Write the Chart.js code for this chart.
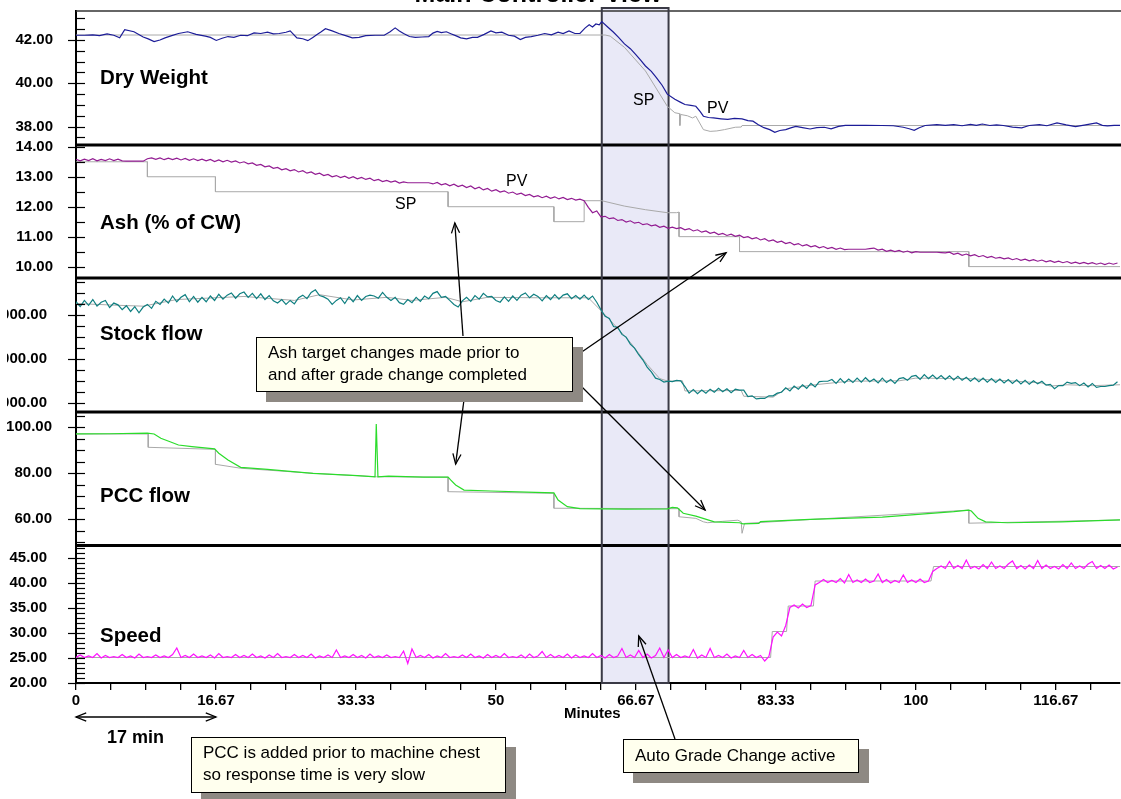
<!DOCTYPE html>
<html>
<head>
<meta charset="utf-8">
<title>Main Controller View</title>
<script src="https://cdn.jsdelivr.net/npm/chart.js@4.4.1/dist/chart.umd.min.js"></script>
<style>
  body { margin: 0; background: #fff; }
  #wrap { position: relative; width: 1121px; height: 799px; overflow: hidden;
          font-family: "Liberation Sans", Arial, sans-serif; color: #000; }
  #wrap canvas { position: absolute; left: 0; top: 0; }
  .t { position: absolute; white-space: nowrap; line-height: 1; }
  .panel { font-weight: bold; font-size: 20.5px; }
  .tag { font-size: 16px; }
  .note { position: absolute; box-sizing: border-box; background: #ffffee;
          border: 1.5px solid #000; box-shadow: 10px 10px 0 #8e8983;
          font-size: 17px; line-height: 22px; padding: 4px 0 0 11px; white-space: nowrap; }
</style>
</head>
<body>
<div id="wrap">
  <canvas id="mcv" width="1121" height="799"></canvas>

  <div class="t" style="left:338px;top:-19px;width:400px;text-align:center;font-weight:bold;font-size:25px;">Main Controller View</div>

  <div class="t panel" style="left:100px;top:66.6px;">Dry Weight</div>
  <div class="t panel" style="left:100px;top:211.6px;">Ash (% of CW)</div>
  <div class="t panel" style="left:100px;top:322.6px;">Stock flow</div>
  <div class="t panel" style="left:100px;top:484.6px;">PCC flow</div>
  <div class="t panel" style="left:100px;top:624.6px;">Speed</div>

  <div class="t tag" style="left:633px;top:91.5px;">SP</div>
  <div class="t tag" style="left:707px;top:99.5px;">PV</div>
  <div class="t tag" style="left:506px;top:172.5px;">PV</div>
  <div class="t tag" style="left:395px;top:195.5px;">SP</div>

  <div class="t" style="left:564px;top:705.3px;font-weight:bold;font-size:15px;">Minutes</div>
  <div class="t" style="left:107px;top:727.8px;font-weight:bold;font-size:18px;">17 min</div>

  <div class="note" style="left:256px;top:337px;width:317px;height:55px;">Ash target changes made prior to<br>and after grade change completed</div>
  <div class="note" style="left:191px;top:737px;width:315px;height:56px;">PCC is added prior to machine chest<br>so response time is very slow</div>
  <div class="note" style="left:623px;top:739px;width:236px;height:34px;padding-top:5px;">Auto Grade Change active</div>
</div>

<script>
// ── sampling interval (minutes) for the densely logged tags
const STEP = 0.5;

// ── Auto Grade Change active window (minutes)
const agcWindow = [62.6, 70.55];

// ── Dry Weight
const dryT = [0,1,2,2.8,3.7,4.5,5.2,5.8,6.9,8.0, 8.6,9.3,10.0,10.6,11.4,12.2,13.3,14.3,15.4,16.0,
  16.7,17.4,18.1,18.8,19.6,20.4,21.2,22.0,22.8,23.5, 24.2,25.0,25.5,26.3,27.0,27.6,28.2,28.7,29.2,29.7,
  30.5,31.3,32.1,32.9,33.7,34.5,35.6,36.7,37.4,38.0, 38.5,39.0,39.7,40.4,41.2,42.0,42.5,43.0,43.5,44.1,
  44.7,45.2,45.8,46.5,47.2,47.8,48.6,49.4,50.0,50.7, 51.5,52.2,52.9,53.5,54.2,55.0,55.8,56.6,57.4,58.0,
  58.7,59.4,60.0,60.6,61.1,61.5,61.9,62.3,62.6,63.3, 64.0,64.6,65.3,66.0,66.6,67.2,67.8,68.5,69.1,69.8,
  70.4,71.3,72.0,72.5,73.2,73.8,74.3,74.7,75.3,75.9, 76.8,77.6,78.4,79.3,80.0,80.6,81.2,81.9,82.6,83.2,
  83.8,84.5,85.1,85.7,86.5,87.4,88.2,89.1,89.9,90.8, 91.6,92.5,94.0,96.0,97.3,98.5,99.2,99.8,100.4,101.1,
  102.5,103.5,104.5,105.5,106.5,107.2,107.9,108.8,109.6,110.4, 111.5,112.6,113.5,114.7,115.6,116.8,117.9,119.0,120.2,121.5,
  122.2,122.8,123.6,124.3];
const dryPv = [42.22,42.22,42.24,42.20,42.28,42.22,42.10,42.48,42.38,42.14, 42.05,41.93,42.00,42.10,42.20,42.30,42.38,42.26,42.18,42.12,
  41.98,42.08,42.16,42.12,42.22,42.20,42.33,42.30,42.36,42.28, 42.30,42.36,42.42,42.10,42.06,41.97,42.12,42.25,42.38,42.52,
  42.42,42.30,42.20,42.10,42.12,42.20,42.22,42.22,42.38,42.56, 42.42,42.30,42.16,42.12,42.14,42.16,42.32,42.40,42.34,42.38,
  42.28,42.20,42.10,42.05,42.12,42.12,42.26,42.42,42.33,42.36, 42.22,42.18,42.02,42.12,42.16,42.22,42.30,42.24,42.36,42.30,
  42.42,42.30,42.31,42.55,42.70,42.60,42.74,42.70,42.85,42.60, 42.36,42.12,41.82,41.60,41.35,41.08,40.80,40.55,40.26,39.90,
  39.50,39.26,39.12,39.02,38.98,38.94,38.70,38.48,38.42,38.40, 38.36,38.33,38.38,38.36,38.28,38.25,38.10,37.95,37.86,37.74,
  37.82,37.86,37.94,38.01,37.95,37.89,37.95,37.97,37.90,38.01, 38.06,38.06,38.06,38.05,38.04,37.97,37.90,37.83,37.95,38.05,
  38.09,38.06,38.09,38.04,38.10,38.06,38.12,38.05,38.08,38.05, 37.98,37.94,38.05,38.09,38.04,38.17,38.08,38.00,38.08,38.17,
  38.06,38.03,38.06,38.06];
const drySpT = [0,63.0,63.6,65.3,67.8,70.4,71.3,71.85,71.9,72.0,72.8,73.4,73.8,74.7,75.5,76.3,77.2,78.5,79.2,79.3,124.3];
const drySpV = [42.23,42.23,42.18,41.66,40.57,38.94,38.64,38.60,38.05,38.56,38.50,38.40,38.48,37.86,37.78,37.80,37.86,37.97,37.98,38.05,38.05];

// ── Ash (% of CW), every STEP minutes from 0
const ashPv = [13.58,13.53,13.59,13.54,13.60,13.53,13.58,13.54,13.60,13.54,
  13.59,13.53,13.52,13.52,13.52,13.52,13.52,13.60,13.63,13.58,
  13.63,13.57,13.62,13.57,13.62,13.56,13.61,13.55,13.60,13.54,
  13.59,13.53,13.58,13.51,13.56,13.50,13.55,13.49,13.53,13.46,
  13.50,13.43,13.46,13.38,13.41,13.33,13.36,13.28,13.31,13.23,
  13.27,13.20,13.24,13.16,13.20,13.12,13.16,13.08,13.12,13.04,
  13.08,13.00,13.04,12.97,13.02,12.95,13.00,12.93,12.98,12.91,
  12.95,12.87,12.91,12.84,12.88,12.82,12.86,12.79,12.83,12.80,
  12.80,12.80,12.80,12.80,12.80,12.76,12.81,12.73,12.77,12.70,
  12.75,12.67,12.72,12.64,12.69,12.60,12.65,12.56,12.61,12.52,
  12.57,12.49,12.53,12.45,12.49,12.41,12.45,12.37,12.41,12.33,
  12.37,12.30,12.35,12.28,12.33,12.26,12.31,12.24,12.28,12.22,
  12.25,12.20,11.98,11.80,11.86,11.66,11.68,11.60,11.63,11.54,
  11.57,11.49,11.53,11.45,11.48,11.40,11.43,11.36,11.39,11.31,
  11.35,11.28,11.32,11.27,11.30,11.23,11.27,11.19,11.23,11.15,
  11.19,11.11,11.15,11.07,11.11,11.04,11.08,11.01,11.05,10.97,
  11.00,10.93,10.97,10.89,10.93,10.85,10.89,10.81,10.85,10.77,
  10.81,10.73,10.77,10.69,10.73,10.66,10.70,10.63,10.67,10.60,
  10.64,10.58,10.62,10.57,10.58,10.58,10.58,10.58,10.58,10.60,
  10.62,10.55,10.58,10.51,10.55,10.50,10.54,10.48,10.52,10.46,
  10.50,10.48,10.48,10.48,10.48,10.48,10.47,10.46,10.48,10.41,
  10.45,10.38,10.42,10.36,10.40,10.33,10.37,10.30,10.34,10.28,
  10.31,10.26,10.29,10.23,10.27,10.21,10.25,10.19,10.23,10.18,
  10.22,10.16,10.20,10.14,10.18,10.13,10.17,10.11,10.15,10.10,
  10.14,10.09,10.13,10.08,10.12,10.07,10.12,10.08,10.12];
const ashSpT = [0,8.5,8.5,16.6,16.6,44.3,44.3,56.9,56.9,60.5,60.5,62.6,65.3,67.8,70.4,71.5,71.8,71.8,79.0,79.0,106.3,106.3,124.3];
const ashSpV = [13.5,13.5,13.0,13.0,12.5,12.5,12.0,12.0,11.5,11.5,12.2,12.2,12.02,11.9,11.8,11.8,11.82,11.0,11.0,10.5,10.5,10.0,10.0];

// ── Stock flow, every STEP minutes from 0
const stockPv = [3300,3190,3330,3220,3350,3200,3290,3330,3170,3270,
  3230,3120,3210,3080,3190,3050,3180,3240,3150,3310,
  3240,3360,3270,3430,3300,3400,3460,3300,3420,3290,
  3400,3300,3430,3330,3470,3360,3450,3500,3380,3480,
  3520,3400,3490,3370,3480,3350,3440,3320,3270,3350,
  3240,3330,3250,3390,3450,3370,3510,3570,3440,3410,
  3360,3240,3330,3390,3260,3410,3300,3440,3330,3420,
  3450,3430,3380,3510,3400,3330,3400,3280,3240,3350,
  3280,3400,3310,3430,3370,3490,3530,3400,3420,3330,
  3240,3180,3320,3400,3310,3440,3360,3490,3410,3420,
  3330,3290,3410,3310,3430,3330,3450,3500,3390,3470,
  3420,3320,3440,3350,3460,3360,3450,3480,3370,3440,
  3360,3450,3350,3430,3290,3120,2970,2920,2740,2720,
  2560,2500,2340,2250,2100,1980,1820,1710,1570,1540,
  1480,1500,1490,1520,1510,1380,1230,1310,1220,1300,
  1230,1320,1250,1340,1260,1330,1240,1320,1300,1300,
  1150,1170,1100,1110,1110,1170,1170,1230,1250,1350,
  1280,1390,1320,1420,1340,1450,1370,1490,1500,1500,
  1540,1450,1560,1460,1550,1470,1570,1480,1580,1490,
  1550,1460,1570,1470,1540,1450,1560,1580,1520,1610,
  1630,1540,1650,1560,1640,1550,1630,1540,1620,1530,
  1610,1520,1590,1500,1580,1490,1570,1480,1560,1470,
  1550,1460,1540,1450,1530,1440,1520,1430,1510,1440,
  1500,1410,1430,1330,1400,1400,1480,1450,1470,1400,
  1460,1370,1450,1360,1380,1380,1400,1410,1490];
const stockSpT = [0,5,8,12,20,26,29,33,37,40,44,46,49,55,61,62.6,64,66,68,69.5,70.5,72.2,72.5,79.2,79.5,83,84.5,88,92,98,100,106,112,115,116,118,121,124.3];
const stockSpV = [3260,3220,3200,3350,3420,3330,3460,3340,3400,3330,3400,3300,3400,3390,3390,3080,2800,2380,1880,1560,1500,1510,1280,1290,1160,1140,1330,1420,1500,1510,1570,1560,1500,1460,1390,1420,1400,1420];

// ── PCC flow
const pccT = [0,4,8.5,9.3,10.1,11.2,12.2,13.8,16.5,17.0,18.1,19.6,22.8,28.2,33.5,35.6,35.75,35.95,37.2,41.4,
  44.3,44.6,45.2,46.2,49.4,54.7,56.9,57.4,58.5,60.0,65.4,70.4,71.0,71.6,72.3,73.8,76.0,79.0,79.4,81.3,
  81.5,87.4,96.0,104.5,106.3,106.6,107.4,108.3,110.9,117.3,124.3];
const pccPv = [97.1,97.2,97.5,97.1,95.2,93.7,92.3,91.6,90.6,88.7,85.8,82.6,81.7,80.0,79.0,78.5,101.4,78.5,78.8,78.3,
  78.3,77.1,74.9,72.7,72.3,71.7,71.5,68.4,65.5,64.6,64.4,64.5,65.2,65.0,62.6,61.4,58.9,58.5,58.0,58.2,
  59.0,60.0,60.9,63.3,64.0,63.6,60.4,58.9,58.5,58.9,59.7];
const pccSpT = [0,8.6,8.6,16.6,16.6,19.6,28.2,35.8,44.3,44.3,56.9,56.9,71.8,71.8,73.8,74.7,75.2,77.0,78.8,79.2,79.3,79.6,106.3,106.3,124.3];
const pccSpV = [97.1,97.1,91.3,90.4,83.9,82.2,80.0,78.5,78.3,72.0,71.3,64.8,64.6,61.1,60.4,58.9,58.5,59.1,59.6,58.9,53.9,58.2,64.0,58.3,59.7];

// ── Speed, every STEP minutes from 0
const speedPv = [25.1,25.6,25.1,25.4,25.1,25.9,25.0,25.5,25.1,25.3,
  25.1,25.7,25.1,25.4,25.0,25.8,25.1,25.3,25.1,25.6,
  25.1,25.4,25.1,25.7,27.0,25.1,25.5,25.1,25.8,25.1,
  25.4,25.1,25.6,25.0,25.9,25.1,25.3,25.1,25.7,25.1,
  25.5,25.1,25.8,25.1,25.4,25.0,25.6,25.1,25.9,25.1,
  25.3,25.1,25.7,25.1,25.5,25.1,25.8,25.0,25.4,25.1,
  25.6,25.1,26.6,25.1,25.4,25.1,25.7,25.1,25.5,25.0,
  25.8,25.1,25.4,25.1,25.6,25.1,25.3,25.1,26.4,23.9,
  26.8,25.1,25.5,25.1,25.7,25.0,25.4,25.1,25.9,25.1,
  25.3,25.1,25.6,25.1,25.8,25.1,25.4,25.0,25.7,25.1,
  25.5,25.1,25.9,25.1,25.3,25.1,25.6,25.0,25.8,25.1,
  25.4,26.3,25.1,25.7,25.1,25.5,25.1,25.8,25.0,25.6,
  25.1,25.4,25.1,25.9,25.1,25.5,25.0,25.7,25.1,25.4,
  26.9,25.1,25.6,25.1,26.5,25.1,25.8,25.0,25.5,27.0,
  25.1,26.6,25.1,25.7,25.1,25.4,25.1,26.7,25.0,25.6,
  25.1,26.9,25.1,25.5,25.1,25.8,25.0,25.4,25.1,26.5,
  25.1,25.7,25.1,25.5,24.4,25.3,29.2,30.2,29.4,31.5,
  35.1,35.6,35.0,35.8,35.1,35.5,39.6,40.1,40.7,40.1,
  40.5,40.1,40.9,40.0,41.7,40.1,40.6,40.1,40.8,40.1,
  40.4,41.8,40.1,40.7,40.0,40.5,40.1,41.6,40.1,40.6,
  40.1,40.8,40.1,40.4,42.3,42.9,43.4,42.9,44.3,42.9,
  43.5,42.9,44.6,42.9,43.3,42.8,43.7,42.9,44.2,42.9,
  43.4,42.9,43.8,44.4,42.9,43.5,42.8,43.6,42.9,44.5,
  42.9,43.6,42.9,43.3,42.8,43.7,42.9,44.0,42.9,43.4,
  42.9,43.8,44.3,42.9,43.5,42.9,43.6,42.8,43.2];
const speedSpT = [0,82.7,82.9,84.6,84.8,87.8,88.0,101.8,102.1,124.3];
const speedSpV = [25.1,25.1,30.3,30.3,35.4,35.4,40.4,40.4,43.3,43.3];

// ── helpers
const pairs = (ts, vs) => ts.map((t, i) => ({ x: t, y: vs[i] }));
const onGrid = vs => vs.map((v, i) => ({ x: i * STEP, y: v }));

Chart.defaults.font.family = '"Liberation Sans", Arial, sans-serif';
Chart.defaults.color = '#000';

const SP_GREY = '#a9a9a9';
const LABEL_FONT = { size: 15, weight: 'bold' };

function pv(data, axis, color) {
  return { data, yAxisID: axis, borderColor: color, borderWidth: 1.2, pointRadius: 0, tension: 0, order: 0 };
}
function sp(data, axis) {
  return { data, yAxisID: axis, borderColor: SP_GREY, borderWidth: 1, pointRadius: 0, tension: 0, order: 1 };
}

// one stacked y axis per panel, listed bottom → top (Chart.js stacks the last one on top).
// Ticks every `minor`, labelled every `major`; the invisible tick length pushes the labels left.
function yAxis(weight, min, max, minor, major, gap) {
  return {
    type: 'linear', position: 'left', stack: 'panels', stackWeight: weight,
    min, max,
    grid: { display: true, drawOnChartArea: false, drawTicks: true, tickLength: gap, color: 'rgba(0,0,0,0)' },
    border: { display: true, color: '#000', width: 2 },
    ticks: {
      autoSkip: false, padding: 0, font: LABEL_FONT, color: '#000',
      callback: v => Math.abs(v / major - Math.round(v / major)) < 1e-6 ? v.toFixed(2) : ''
    },
    afterBuildTicks: s => {
      const list = [];
      for (let k = Math.ceil(min / minor - 1e-9); k * minor <= max + 1e-9; k++) {
        list.push({ value: +(k * minor).toFixed(6) });
      }
      s.ticks = list;
    },
    afterFit: s => { s.width = 76; }
  };
}

// ── background: AGC window, frame line and panel dividers
function drawBackdrop(chart) {
  const { ctx, chartArea: ca, scales } = chart;
  const bx0 = scales.x.getPixelForValue(agcWindow[0]);
  const bx1 = scales.x.getPixelForValue(agcWindow[1]);
  ctx.save();
  ctx.fillStyle = '#e9e9f7';
  ctx.fillRect(bx0, ca.top - 3, bx1 - bx0, ca.bottom - ca.top + 3);

  ctx.strokeStyle = '#333';
  ctx.lineWidth = 1.5;
  ctx.beginPath(); ctx.moveTo(ca.left, ca.top); ctx.lineTo(chart.width, ca.top); ctx.stroke();

  ctx.strokeStyle = '#000';
  ctx.lineWidth = 3;
  ['yDry', 'yAsh', 'yStock', 'yPcc'].forEach(id => {
    const y = scales[id].bottom;
    ctx.beginPath(); ctx.moveTo(ca.left, y); ctx.lineTo(chart.width, y); ctx.stroke();
  });

  ctx.strokeStyle = '#3a3a46';
  ctx.lineWidth = 2;
  ctx.strokeRect(bx0, ca.top - 3, bx1 - bx0, ca.bottom - ca.top + 3);
  ctx.restore();
}

function arrow(ctx, x0, y0, x1, y1) {
  ctx.beginPath(); ctx.moveTo(x0, y0); ctx.lineTo(x1, y1); ctx.stroke();
  const a = Math.atan2(y1 - y0, x1 - x0), L = 11, w = 0.38;
  ctx.beginPath();
  ctx.moveTo(x1 - L * Math.cos(a - w), y1 - L * Math.sin(a - w));
  ctx.lineTo(x1, y1);
  ctx.lineTo(x1 - L * Math.cos(a + w), y1 - L * Math.sin(a + w));
  ctx.stroke();
}

// callout arrows: tail in pixels (box edge), tip in data units
const callouts = [
  { from: [463, 336], x: 45.1, y: 11.46, axis: 'yAsh' },
  { from: [465, 392], x: 45.2, y: 84.0, axis: 'yPcc' },
  { from: [573, 358], x: 77.4, y: 10.46, axis: 'yAsh' },
  { from: [573, 378], x: 74.9, y: 64.0, axis: 'yPcc' },
  { from: [675, 739], x: 67.0, y: 29.4, axis: 'ySpeed' }
];

const decor = {
  id: 'decor',
  beforeDraw(chart) {
    // tick labels are cut off at the left edge of the view
    const c = chart.ctx;
    c.save();
    c.beginPath(); c.rect(7, 0, chart.width, chart.height); c.clip();
  },
  beforeDatasetsDraw(chart) {
    chart.ctx.restore();
    drawBackdrop(chart);
  },
  afterDraw(chart) {
    const { ctx, scales } = chart;
    ctx.save();
    // y tick marks: majors cross the axis, minors sit inside
    ctx.strokeStyle = '#000';
    ctx.lineWidth = 1.2;
    ['yDry', 'yAsh', 'yStock', 'yPcc', 'ySpeed'].forEach(id => {
      const s = scales[id];
      s.ticks.forEach(t => {
        const y = Math.round(s.getPixelForValue(t.value)) + 0.5;
        const major = t.label !== '';
        ctx.beginPath(); ctx.moveTo(major ? 68 : 76, y); ctx.lineTo(85, y); ctx.stroke();
      });
    });

    ctx.lineWidth = 1.3;
    callouts.forEach(c => {
      arrow(ctx, c.from[0], c.from[1], scales.x.getPixelForValue(c.x), scales[c.axis].getPixelForValue(c.y));
    });

    // 17 min span
    const xa = scales.x.getPixelForValue(0), xb = scales.x.getPixelForValue(100 / 6);
    arrow(ctx, (xa + xb) / 2, 717, xb, 717);
    arrow(ctx, (xa + xb) / 2, 717, xa, 717);
    ctx.restore();
  }
};

new Chart(document.getElementById('mcv'), {
  type: 'line',
  data: {
    datasets: [
      pv(pairs(dryT, dryPv), 'yDry', '#1c1c98'),
      sp(pairs(drySpT, drySpV), 'yDry'),
      pv(onGrid(ashPv), 'yAsh', '#921c92'),
      sp(pairs(ashSpT, ashSpV), 'yAsh'),
      pv(onGrid(stockPv), 'yStock', '#0f7f80'),
      sp(pairs(stockSpT, stockSpV), 'yStock'),
      pv(pairs(pccT, pccPv), 'yPcc', '#2bdc2b'),
      sp(pairs(pccSpT, pccSpV), 'yPcc'),
      pv(onGrid(speedPv), 'ySpeed', '#ff10ff'),
      sp(pairs(speedSpT, speedSpV), 'ySpeed')
    ]
  },
  options: {
    responsive: false,
    animation: false,
    events: [],
    layout: { padding: { top: 11, right: 1, left: 0, bottom: 0 } },
    plugins: { legend: { display: false }, tooltip: { enabled: false } },
    scales: {
      x: {
        type: 'linear', min: 0, max: 124.3,
        grid: { display: true, drawOnChartArea: false, drawTicks: true, tickLength: 7, color: '#000', lineWidth: 1.3 },
        border: { display: true, color: '#000', width: 2 },
        ticks: {
          stepSize: 25 / 6, includeBounds: false, autoSkip: false, maxRotation: 0, padding: 2,
          font: LABEL_FONT, color: '#000',
          callback: (v, i) => i % 4 === 0 ? String(Math.round(v * 100) / 100) : ''
        },
        afterFit: s => { s.height = 116; }
      },
      ySpeed: yAxis(137.5, 20, 47.5, 1, 5, 29),
      yPcc:   yAxis(133.5, 48.6, 106.65, 5, 20, 24),
      yStock: yAxis(134, 803, 3838, 250, 1000, 29),
      yAsh:   yAxis(133, 9.62, 14.06, 0.5, 1, 23),
      yDry:   yAxis(134, 37.15, 43.34, 0.5, 2, 23)
    }
  },
  plugins: [decor]
});
</script>
</body>
</html>
